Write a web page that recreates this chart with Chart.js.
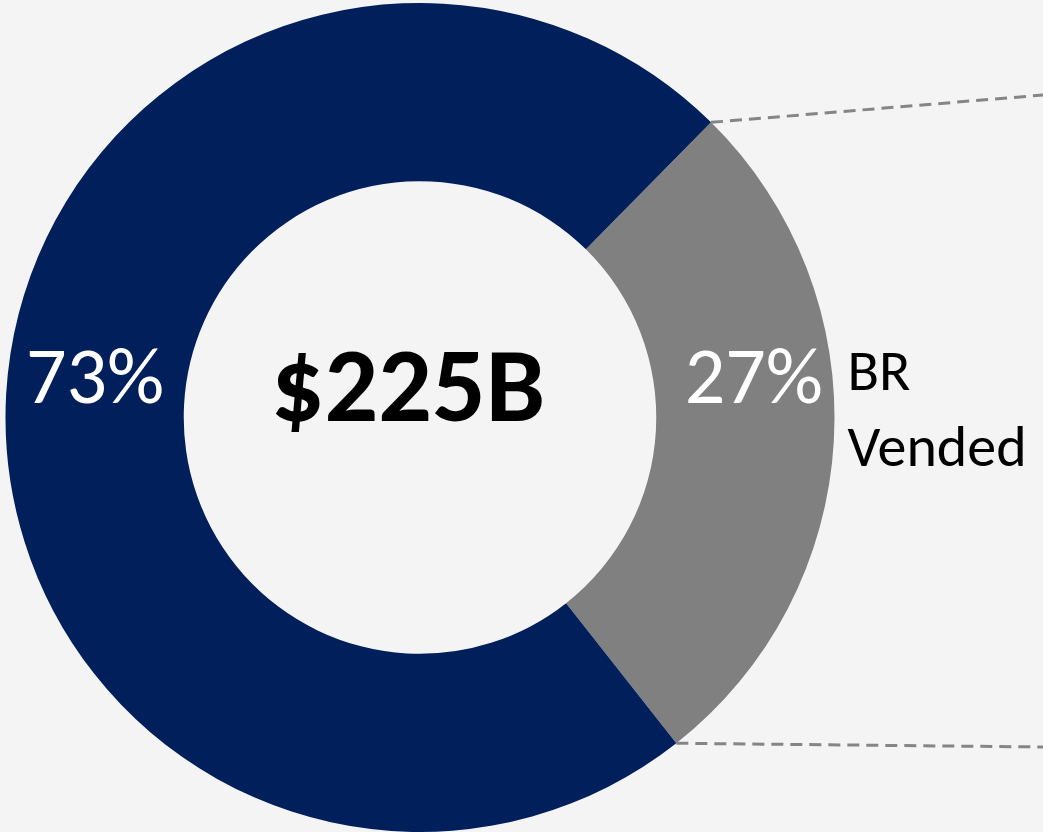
<!DOCTYPE html>
<html>
<head>
<meta charset="utf-8">
<script src="https://cdn.jsdelivr.net/npm/chart.js@4"></script>
<style>
  html, body { margin: 0; padding: 0; background: #f4f4f4; }
  #wrap { width: 1043px; height: 832px; position: relative; }
</style>
</head>
<body>
<div id="wrap"><canvas id="c" width="1043" height="832"></canvas></div>
<script>
const categories = ['BR Vended', 'Other'];
const values = [27, 73];
const percentLabels = ['27%', '73%'];
const centerLabel = '$225B';
const sideLabel = ['BR', 'Vended'];

const FONT = 'Carlito, Calibri, Lato, sans-serif';

const overlay = {
  id: 'overlay',
  afterDatasetsDraw(chart) {
    const ctx = chart.ctx;
    const meta = chart.getDatasetMeta(0);
    const arcs = meta.data;
    const cx = arcs[0].x, cy = arcs[0].y;
    const dx = [9, 0];
    ctx.save();
    // percent labels in ring
    ctx.fillStyle = '#ffffff';
    ctx.font = '80px ' + FONT;
    ctx.textAlign = 'center';
    ctx.textBaseline = 'alphabetic';
    arcs.forEach((a, i) => {
      const mid = (a.startAngle + a.endAngle) / 2;
      const r = (a.innerRadius + a.outerRadius) / 2;
      const x = cx + r * Math.cos(mid) + dx[i];
      ctx.fillText(percentLabels[i], x, cy - 15);
    });
    // center label
    ctx.fillStyle = '#000000';
    ctx.font = 'bold 106px ' + FONT;
    ctx.fillText(centerLabel, cx - 12, cy + 3);
    // side label
    const g = arcs[0];
    ctx.font = '58px ' + FONT;
    ctx.textAlign = 'left';
    const lx = cx + g.outerRadius + 13;
    ctx.fillText(sideLabel[0], lx, cy - 28);
    ctx.fillText(sideLabel[1], lx, cy + 48);
    // dashed callout lines
    ctx.strokeStyle = '#858585';
    ctx.lineWidth = 3;
    ctx.setLineDash([12, 7]);
    const R = g.outerRadius;
    const p1 = [cx + R * Math.cos(g.startAngle), cy + R * Math.sin(g.startAngle)];
    const p2 = [cx + R * Math.cos(g.endAngle), cy + R * Math.sin(g.endAngle)];
    ctx.beginPath();
    ctx.moveTo(p1[0], p1[1]);
    ctx.lineTo(chart.width, 95);
    ctx.moveTo(p2[0], p2[1]);
    ctx.lineTo(chart.width, 747);
    ctx.stroke();
    ctx.restore();
  }
};

new Chart(document.getElementById('c'), {
  type: 'doughnut',
  data: {
    labels: categories,
    datasets: [{
      data: values,
      backgroundColor: ['#808080', '#001f5b'],
      borderWidth: 0
    }]
  },
  options: {
    responsive: false,
    animation: false,
    cutout: '57%',
    rotation: 44.6,
    layout: { padding: { left: 5, right: 208, top: 3, bottom: 0 } },
    plugins: { legend: { display: false }, tooltip: { enabled: false } }
  },
  plugins: [overlay]
});
</script>
</body>
</html>
